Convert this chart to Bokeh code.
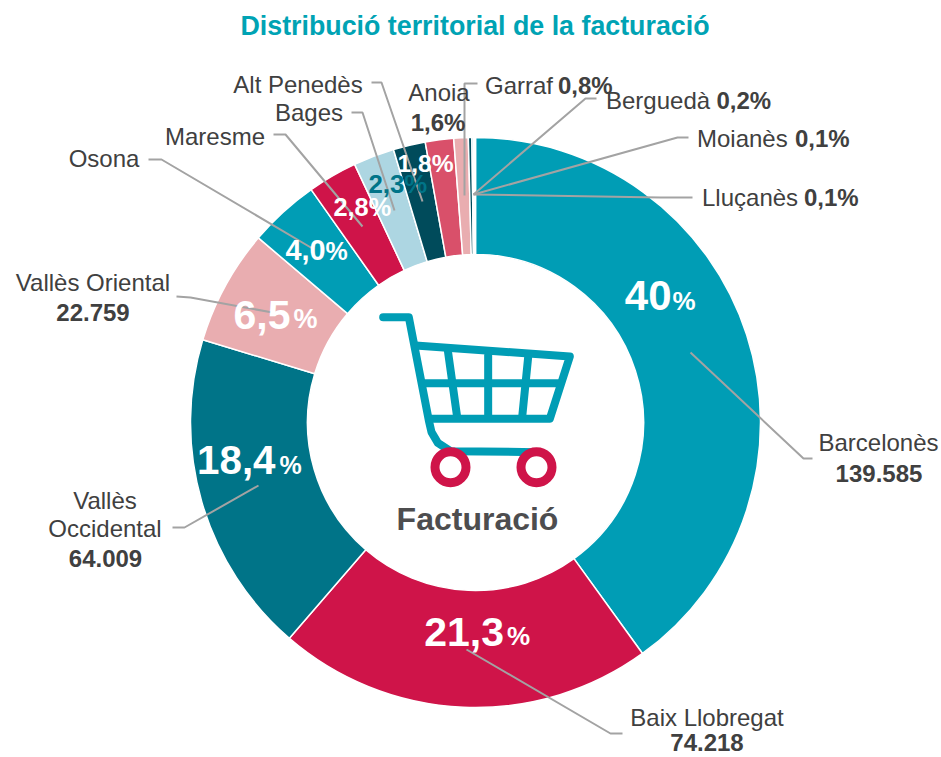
from math import pi
from bokeh.plotting import figure
from bokeh.embed import file_html
from bokeh.resources import INLINE
from bokeh.models import Range1d, ColumnDataSource
from bokeh.core.properties import value

# ---- data ----
territories = ["Barcelonès", "Baix Llobregat", "Vallès Occidental", "Vallès Oriental", "Osona", "Maresme", "Bages",
               "Alt Penedès", "Anoia", "Garraf", "Berguedà", "Moianès", "Lluçanès"]
billing = [139585, 74218, 64009, 22759, 13960, 9800, 8100, 6350, 5600, 2850, 700, 350, 350]
colors = ["#009DB5", "#CF1449", "#007488", "#E9ADB0", "#009DB5", "#CF1449", "#ADD6E2",
          "#004B5B", "#D9506A", "#E9ADB0", "#004B5B", "#ADD6E2", "#FFFFFF"]
title = "Distribució territorial de la facturació"
center_label = "Facturació"

FONT = value("Liberation Sans")
GREY = "#404040"
LINE = "#A3A3A3"
H = 757

def Y(py):
    return H - py

p = figure(width=941, height=757, x_range=Range1d(0, 941), y_range=Range1d(0, 757),
           output_backend="svg", toolbar_location=None, min_border=0, outline_line_color=None,
           background_fill_color="white")
p.axis.visible = False
p.grid.visible = False

# ---- ring ----
CX, CY, R0, R1 = 475, 422, 168, 285
total = sum(billing)
starts, ends = [], []
c = 0
for v in billing:
    starts.append(pi / 2 - 2 * pi * c / total)
    c += v
    ends.append(pi / 2 - 2 * pi * c / total)
src = ColumnDataSource(dict(start=starts, end=ends, color=colors, name=territories))
p.annular_wedge(x=CX, y=Y(CY), inner_radius=R0, outer_radius=R1, start_angle="start", end_angle="end",
                direction="clock", fill_color="color", line_color="white", line_width=1.5, source=src)

# ---- leader lines (screen px) ----
leaders = [
    [(690, 352), (803, 458), (812, 458)],
    [(466, 649), (610, 733), (622, 733)],
    [(258, 485), (184, 527), (172, 527)],
    [(272, 312), (190, 297), (176, 296)],
    [(312, 248), (161, 159), (148, 159)],
    [(362, 226), (285, 134), (273, 134)],
    [(394, 210), (362, 112), (351, 112)],
    [(422, 201), (381, 82), (371, 82)],
    [(464, 195), (464, 83), (477, 83)],
    [(473, 194), (585, 98), (596, 98)],
    [(473, 194), (677, 137), (688, 137)],
    [(473, 194), (660, 197), (692, 197)],
]
for l in leaders:
    p.line([a for a, _ in l], [Y(b) for _, b in l], line_color=LINE, line_width=2)

# ---- cart ----
def cz(pts):
    return [360 + a / 3 for a, _ in pts], [Y(300 + b / 3) for _, b in pts]

TEAL = "#009DB5"
cart = [
    [(68, 50), (145, 50), (205, 360), (213, 395), (232, 427), (270, 452), (530, 455)],
    [(165, 135), (628, 168), (568, 355), (208, 355)],
    [(188, 248), (592, 248)],
    [(262, 150), (290, 350)],
    [(383, 165), (383, 350)],
    [(503, 170), (485, 350)],
]
for s in cart:
    xs, ys = cz(s)
    p.line(xs, ys, line_color=TEAL, line_width=8, line_cap="round", line_join="round")
p.circle(x=[450, 536], y=[Y(466.7), Y(466.7)], radius=15.5, fill_color="white", line_color="#CF1449", line_width=9)

# ---- text ----
def t(x, py, s, size=24, color=GREY, bold=False, align="left"):
    p.text(x=[x], y=[Y(py)], text=[s], text_font=FONT, text_font_size=f"{size}px",
           text_color=color, text_font_style="bold" if bold else "normal",
           text_align=align, text_baseline="middle")

t(474.5, 25, title, size=26.8, color="#00A3B4", bold=True, align="center")
t(477, 518, center_label, size=32, color="#4D4D4F", bold=True, align="center")

# percentages inside the ring: number + smaller %
def pct(right_x, py, num, size, psize, gap=3, color="white"):
    t(right_x + gap, py + (size - psize) * 0.33, "%", size=psize, color=color, bold=True)
    t(right_x, py, num, size=size, color=color, bold=True, align="right")

pct(671, 295, "40", 42, 26, gap=1)
pct(503.5, 631, "21,3", 41, 26)
pct(275, 459.5, "18,4", 40.3, 25, gap=4)
pct(290, 314, "6,5", 41, 27)
pct(325, 249, "4,0", 28.8, 25, gap=0)
t(333, 206, "2,8%", size=25.3, color="white", bold=True)
t(368, 183, "2,3%", size=25.8, color="#007488", bold=True)
t(397, 163, "1,8%", size=24.6, color="white", bold=True)

# outside labels
t(878, 442, "Barcelonès", align="center")
t(878.5, 473, "139.585", bold=True, align="center")
t(706.5, 717, "Baix Llobregat", align="center")
t(706.5, 742, "74.218", bold=True, align="center")
t(104.5, 500, "Vallès", align="center")
t(104.5, 528, "Occidental", align="center")
t(105, 558, "64.009", bold=True, align="center")
t(92.5, 282, "Vallès Oriental", align="center")
t(92.5, 312, "22.759", bold=True, align="center")
t(103.5, 158, "Osona", align="center")
t(214.5, 136, "Maresme", align="center")
t(308.5, 111.5, "Bages", align="center")
t(297.5, 84, "Alt Penedès", align="center")
t(438.5, 92, "Anoia", align="center")
t(437.5, 122, "1,6%", bold=True, align="center")
t(484.5, 85, "Garraf")
t(557.5, 85, "0,8%", bold=True)
t(605.5, 100, "Berguedà")
t(716, 100, "0,2%", bold=True)
t(696.5, 138, "Moianès")
t(794.5, 138, "0,1%", bold=True)
t(701.5, 197, "Lluçanès")
t(803.5, 197, "0,1%", bold=True)

open("out.html", "w").write(file_html(p, INLINE))
